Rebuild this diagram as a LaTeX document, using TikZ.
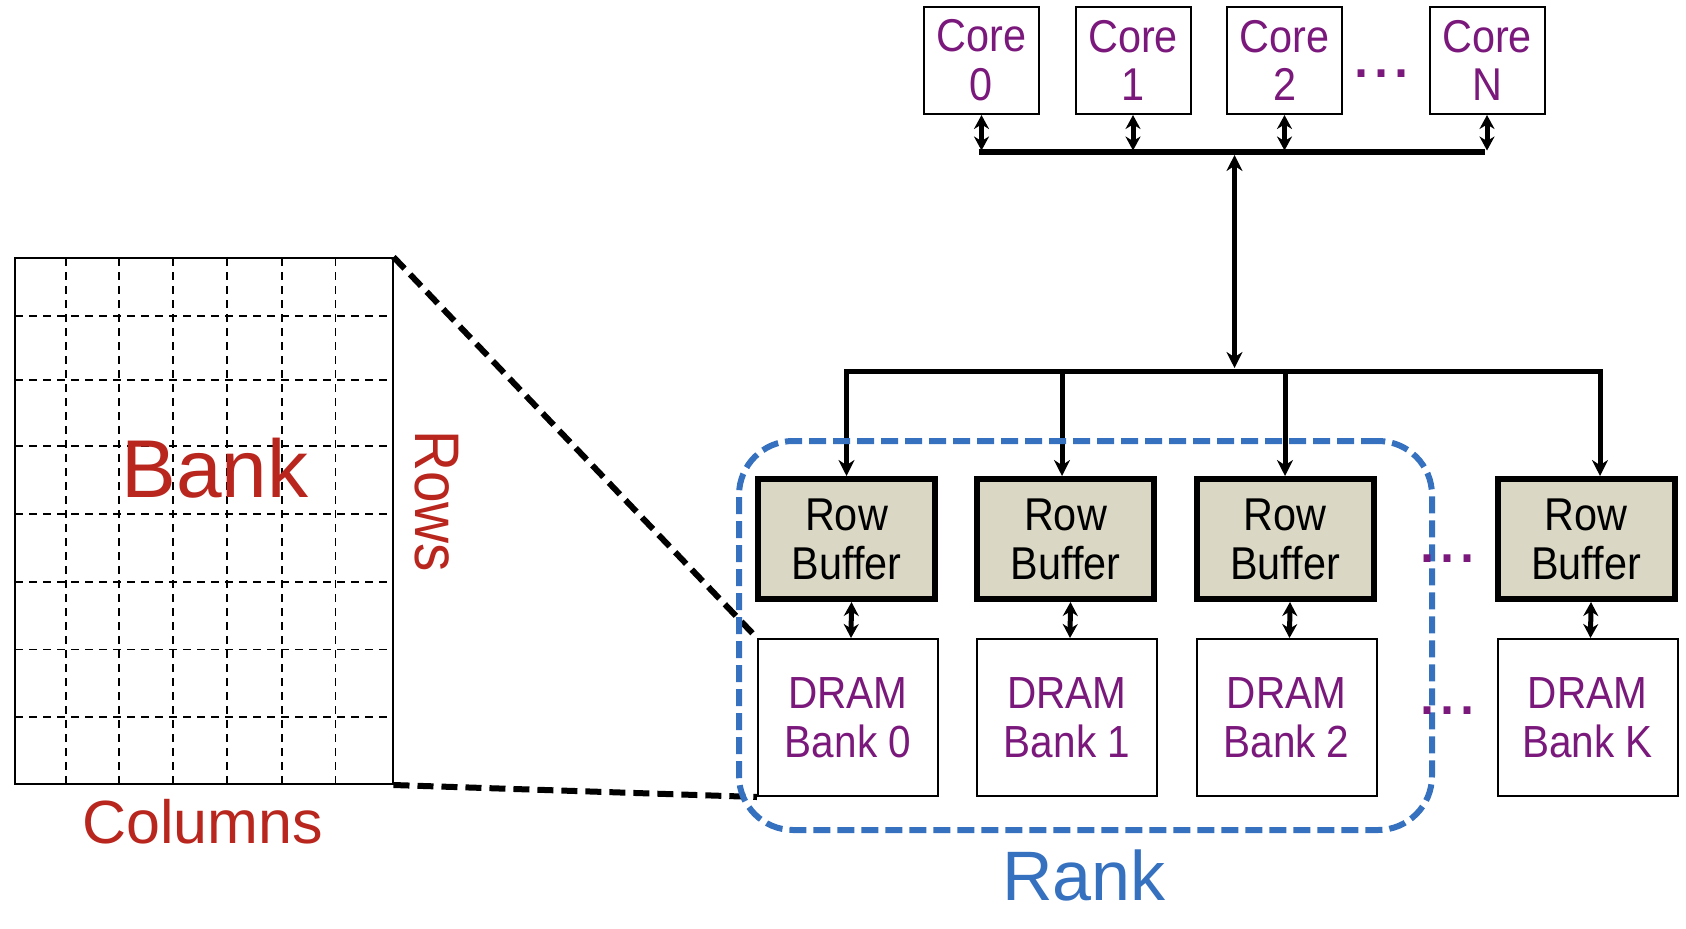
\documentclass[tikz,border=0pt]{standalone}
\usepackage{fontspec}
\setmainfont{Liberation Sans}
\newfontfamily\narrowf{Liberation Sans}[FakeStretch=0.9]
\usetikzlibrary{arrows.meta,calc}
\definecolor{corepurple}{RGB}{122,24,124}
\definecolor{bankred}{RGB}{184,38,30}
\definecolor{rankblue}{RGB}{54,113,192}
\definecolor{rbfill}{RGB}{218,216,197}
\begin{document}
\begin{tikzpicture}[x=0.5pt,y=-0.5pt,
  corebox/.style={draw=black, line width=1pt, fill=white, minimum width=57.5pt, minimum height=53.75pt, inner sep=0pt, align=center, text=corepurple, font=\narrowf\fontsize{23}{24.2}\selectfont},
  rowbuf/.style={draw=black, line width=3pt, fill=rbfill, minimum width=88.5pt, minimum height=60pt, inner sep=0pt, align=center, font=\narrowf\fontsize{23}{24.5}\selectfont},
  drambox/.style={draw=black, line width=1pt, fill=white, minimum width=90pt, minimum height=78.5pt, inner sep=0pt, align=center, text=corepurple, font=\narrowf\fontsize{22.5}{24.75}\selectfont},
  wire/.style={line width=2.5pt, -{Stealth[length=8pt,width=8pt]}},
  dwire/.style={line width=2.5pt, {Stealth[length=8pt,width=8pt]}-{Stealth[length=8pt,width=8pt]}},
  sdwire/.style={line width=2.5pt, {Stealth[length=7pt,width=7.5pt]}-{Stealth[length=7pt,width=7.5pt]}},
  busline/.style={line width=3pt},
  griddash/.style={line width=0.9pt, dash pattern=on 4pt off 3pt},
  zoomline/.style={line width=3pt, dash pattern=on 8pt off 4pt},
  rankline/.style={draw=rankblue, line width=3pt, dash pattern=on 8.5pt off 3.5pt, rounded corners=27pt},
  dotsstyle/.style={text=corepurple, font=\fontsize{36}{36}\selectfont, inner sep=0pt, anchor=base west}
]
\useasboundingbox (0,0) rectangle (1686,928);

% ---- Bank grid ----
\node[draw=black, line width=1pt, minimum width=188.75pt, minimum height=263pt, inner sep=0pt] (grid) at (203.75,521) {};
\foreach \gx in {65.6,119,173,227,281.7,335.5}
  \draw[griddash] (\gx,258) -- (\gx,784);
\foreach \gy in {316,379.6,446,514,582,649.5,717}
  \draw[griddash] (15,\gy) -- (392.5,\gy);
\node[text=bankred, font=\fontsize{41}{41}\selectfont, anchor=base, inner sep=0pt] (banklbl) at (215,497) {Bank};
\node[text=bankred, font=\narrowf\fontsize{31.5}{31.5}\selectfont, rotate=-90, anchor=base, inner sep=0pt] (rowslbl) at (415,501) {Rows};
\node[text=bankred, font=\fontsize{30.5}{30.5}\selectfont, anchor=base, inner sep=0pt] (collbl) at (202.5,843) {Columns};

% ---- Cores ----
\node[corebox] (c0) at (981.5,60.25) {Core\\0};
\node[corebox] (c1) at (1133,60.25) {Core\\1};
\node[corebox] (c2) at (1284.5,60.25) {Core\\2};
\node[corebox] (cN) at (1487,60.25) {Core\\N};
\node[dotsstyle] (cdots) at (1351,77) {...};

\coordinate (bL) at (978.5,152);
\coordinate (bR) at (1485,152);
\coordinate (hub) at (1234.5,155);
\coordinate (lhub) at (1234.5,368);
\coordinate (dK) at (1600,371);
\draw[busline] (bL) -- (bR);
\foreach \c in {c0,c1,c2,cN}
  \draw[sdwire] (\c.south) -- ($(\c.south |- bL)+(0,-1.5)$);
\draw[dwire] (hub) -- (lhub);

% ---- Row buffers and DRAM banks ----
\node[rowbuf] (rb0) at (846.5,539) {Row\\Buffer};
\node[rowbuf] (rb1) at (1065.5,539) {Row\\Buffer};
\node[rowbuf] (rb2) at (1285,539) {Row\\Buffer};
\node[rowbuf] (rbK) at (1586,539) {Row\\Buffer};

\node[drambox] (db0) at (848,717.5) {DRAM\\Bank 0};
\node[drambox] (db1) at (1067,717.5) {DRAM\\Bank 1};
\node[drambox] (db2) at (1286.5,717.5) {DRAM\\Bank 2};
\node[drambox] (dbK) at (1587.5,717.5) {DRAM\\Bank K};

\draw[dwire, line join=miter] (rb0.north) |- (dK) -- (dK |- rbK.north);
\draw[wire] (1062,371) -- (1062,0 |- rb1.north);
\draw[wire] (rb2.north |- dK) -- (rb2.north);

\foreach \i in {0,1,2,K}
  \draw[sdwire] ($(rb\i.south)+(5,0)$) -- ($(db\i.north)+(3,0)$);

% ---- zoom lines ----
\draw[zoomline] (grid.north east) -- (db0.north west);
\draw[zoomline] (grid.south east) -- (db0.south west);

% ---- Rank ----
\node[rankline, minimum width=346.5pt, minimum height=194.5pt, inner sep=0pt] (rank) at (1085.5,635.5) {};
\node[text=rankblue, font=\fontsize{35}{35}\selectfont, anchor=base, inner sep=0pt] (ranklbl) at (1084,900) {Rank};
\node[dotsstyle] (rdots1) at (1417,562.5) {...};
\node[dotsstyle] (rdots2) at (1417,714.5) {...};
\end{tikzpicture}
\end{document}
